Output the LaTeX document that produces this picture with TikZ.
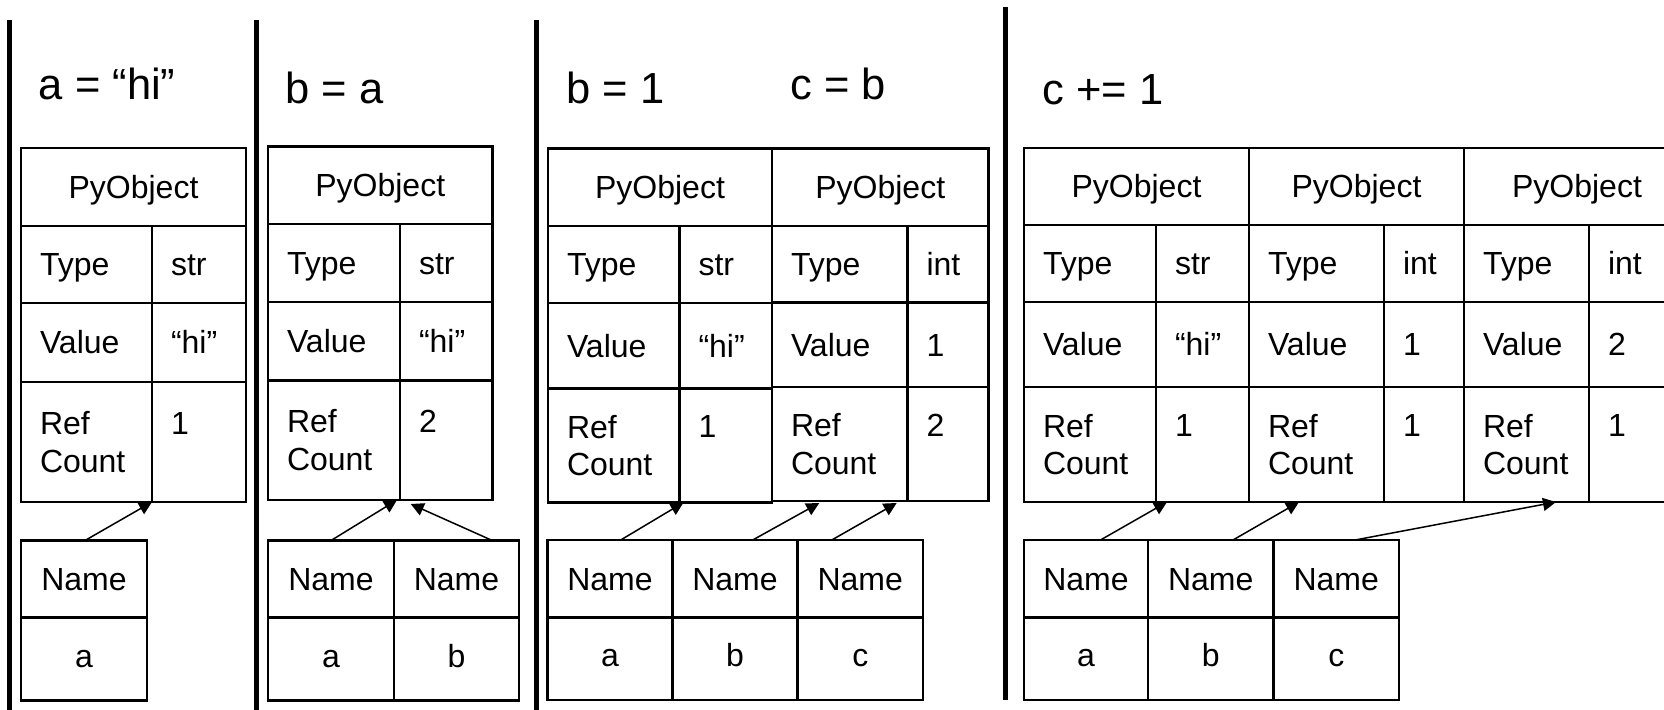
\documentclass[tikz,border=0pt]{standalone}
\usepackage{fontspec}
\setmainfont{Liberation Sans}
\usetikzlibrary{arrows.meta}

\newcommand\tabfont{\fontsize{16}{18.7}\selectfont}
\newcommand\headfont{\fontsize{21.75}{26}\selectfont}

\tikzset{
  cell/.style={draw, line width=1.15pt, rectangle, anchor=north west, outer sep=0pt,
    inner xsep=9.5pt, inner ysep=0pt, font=\tabfont, align=left,
    text height=11.46pt, text depth=0pt},
  mid/.style={align=center},
  two/.style={text height=, text depth=},
  low/.style={text height=8pt},
  title/.style={anchor=base west, inner sep=0pt, font=\headfont},
  link/.style={-{Triangle[length=6.5pt,width=6.5pt]}, line width=0.75pt},
  sepline/.style={line width=2.5pt},
}

% one table cell: [style] {name} {left} {top} {right} {bottom} {text}
\newcommand\drawcell[7][]{%
  \pgfmathsetmacro\cellw{(#5-#3)*0.5-19}%
  \pgfmathsetmacro\cellh{(#6-#4)*0.5}%
  \node[cell,text width=\cellw pt,minimum height=\cellh pt,#1] (#2) at (#3,#4) {#7};%
}
% row lines of the object tables: top, header, type, value, bottom
\newcommand\setrows[5]{\def\ytop{#1}\def\yh{#2}\def\yt{#3}\def\yv{#4}\def\ybot{#5}}
% a PyObject: {prefix} {left} {split} {right} {type} {value} {ref count}
\newcommand\pyobj[7]{%
  \drawcell[mid]{#1h}{#2}{\ytop}{#4}{\yh}{PyObject}
  \drawcell{#1tl}{#2}{\yh}{#3}{\yt}{Type}
  \drawcell{#1tv}{#3}{\yh}{#4}{\yt}{#5}
  \drawcell{#1vl}{#2}{\yt}{#3}{\yv}{Value}
  \drawcell{#1vv}{#3}{\yt}{#4}{\yv}{#6}
  \drawcell[two]{#1rl}{#2}{\yv}{#3}{\ybot}{Ref\\Count}
  \drawcell[two]{#1rv}{#3}{\yv}{#4}{\ybot}{#7\\\phantom{Count}}
}
% a name column: {prefix} {left} {right} {top} {middle} {bottom} {variable}
\newcommand\namecol[7]{%
  \drawcell[mid]{#1n}{#2}{#4}{#3}{#5}{Name}
  \drawcell[mid,low]{#1}{#2}{#5}{#3}{#6}{#7}
}

\begin{document}
\begin{tikzpicture}[x=0.5pt,y=-0.5pt]
\useasboundingbox (0,0) rectangle (1664,709);
\fill[white] (0,0) rectangle (1664,709);
\clip (0,0) rectangle (1664,709);

% separators between the steps
\draw[sepline] (9,20) -- (9,712);
\draw[sepline] (256.5,20) -- (256.5,712);
\draw[sepline] (536,20) -- (536,712);
\draw[sepline] (1005.5,7) -- (1005.5,700);

% step 1: a = "hi"
\node[title] (s1) at (38.4,99.5) {a = “hi”};
\setrows{148}{226}{303}{382}{502}
\pyobj{pa}{21}{152}{246}{str}{“hi”}{1}
\namecol{ma}{21}{147}{540.5}{617.5}{700.5}{a}
\draw[link] ([xshift=0.5pt]man.north) -- (parl.south east);

% step 2: b = a
\node[title] (s2) at (285.3,103) {b = a};
\setrows{146.5}{224}{302}{380.5}{500}
\pyobj{pb}{268}{400}{492.5}{str}{“hi”}{2}
\namecol{mba}{268}{394}{540.5}{617.5}{700.5}{a}
\namecol{mbb}{394}{519}{540.5}{617.5}{700.5}{b}
\draw[link] (mban.north) -- ([xshift=-1.5pt]pbrl.south east);
\draw[link] ([xshift=-13.35pt]mbbn.north east) -- ([xshift=5.35pt,yshift=-2pt]pbrv.south west);

% step 3: b = 1, c = b
\node[title] (s3) at (566,103) {b = 1};
\node[title] (s4) at (790,99) {c = b};
\setrows{148.5}{226}{303}{388.5}{502.5}
\pyobj{pca}{548}{679.5}{772}{str}{“hi”}{1}
\setrows{148.5}{226}{302.5}{387.3}{501}
\pyobj{pcb}{772}{907.5}{988.5}{int}{1}{2}
\namecol{mca}{547.5}{672.5}{540}{617.5}{700}{a}
\namecol{mcb}{672.5}{797.5}{540}{617.5}{700}{b}
\namecol{mcc}{797.5}{923}{540}{617.5}{700}{c}
\draw[link] ([xshift=5.35pt]mcan.north) -- ([xshift=2pt]pcarl.south east);
\draw[link] ([xshift=8.85pt]mcbn.north) -- ([xshift=23.65pt,yshift=-1pt]pcbrl.south west);
\draw[link] ([xshift=-14.25pt]mccn.north) -- ([xshift=-5.4pt,yshift=-1pt]pcbrl.south east);

% step 4: c += 1
\node[title] (s5) at (1042,104) {c += 1};
\setrows{148}{225}{302}{387}{502}
\pyobj{pda}{1024}{1156}{1249}{str}{“hi”}{1}
\pyobj{pdb}{1249}{1384}{1464}{int}{1}{1}
\pyobj{pdc}{1464}{1589}{1690}{int}{2}{1}
\namecol{mda}{1024}{1148}{540}{617.5}{700}{a}
\namecol{mdb}{1148}{1273.5}{540}{617.5}{700}{b}
\namecol{mdc}{1273.5}{1399}{540}{617.5}{700}{c}
\draw[link] ([xshift=7.25pt]mdan.north) -- ([xshift=5.5pt]pdarl.south east);
\draw[link] ([xshift=11.1pt]mdbn.north) -- ([xshift=25pt]pdbrl.south west);
\draw[link] ([xshift=9.4pt]mdcn.north) -- ([xshift=46pt]pdcrl.south west);
\end{tikzpicture}
\end{document}
